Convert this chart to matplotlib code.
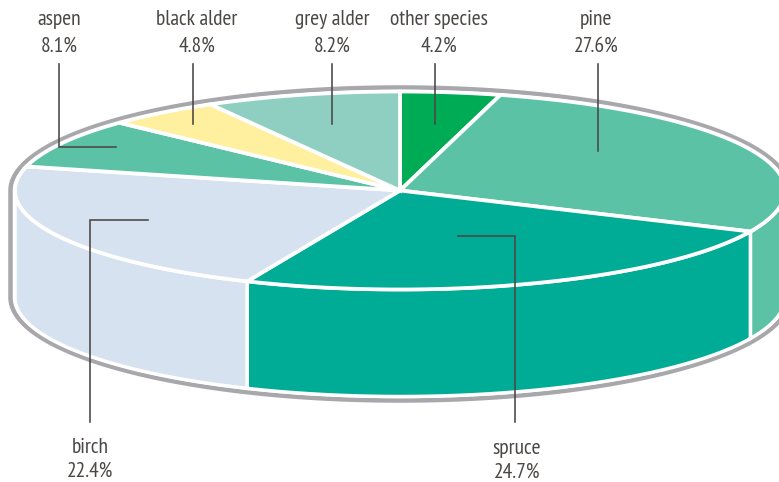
import numpy as np
import matplotlib
matplotlib.use('Agg')
import matplotlib.pyplot as plt
from matplotlib.patches import Polygon

plt.rcParams['font.family'] = ['PT Sans Narrow', 'Roboto Condensed', 'Roboto', 'DejaVu Sans']

# clockwise from 12 o'clock
species = ['other species', 'pine', 'spruce', 'birch', 'aspen', 'black alder', 'grey alder']
shares = [4.2, 27.6, 24.7, 22.4, 8.1, 4.8, 8.2]
colors = ['#00ab56', '#5bc2a6', '#00ac96', '#d6e2f0', '#5bc2a6', '#fff09f', '#8fcfc2']

CX, CY = 400, 190.5
RX, RY = 385, 99
DEPTH = 107
INK = '#4a4744'
RIM = '#a8a8ac'
PX = 72 / 100  # one pixel in points


def rim(t0, t1, rx=RX, ry=RY, dy=0):
    t = np.radians(np.linspace(t0, t1, max(int(abs(t1 - t0)) * 2, 2)))
    return np.column_stack([CX + rx * np.sin(t), CY + dy - ry * np.cos(t)])


fig = plt.figure(figsize=(7.79, 4.82), dpi=100)
ax = fig.add_axes([0, 0, 1, 1])
ax.set_xlim(0, 779)
ax.set_ylim(482, 0)
ax.axis('off')

# grey outline round the whole disc
top_arc = rim(270, 450, 389.5, 103)
low_arc = rim(90, 270, 389.5, 103, 107)
ax.add_patch(Polygon(np.vstack([top_arc, low_arc]), closed=True, fc='white', ec=RIM,
                     lw=4.5 * PX, joinstyle='round', zorder=1))

edges = np.concatenate([[0], np.cumsum(shares)]) * 360 / sum(shares)

# side wall, only the part facing the viewer
for a, b, c in zip(edges[:-1], edges[1:], colors):
    t0, t1 = max(a, 90), min(b, 270)
    if t0 >= t1:
        continue
    pts = np.vstack([rim(t0, t1), rim(t1, t0, dy=DEPTH)])
    ax.add_patch(Polygon(pts, closed=True, fc=c, ec='white', lw=3.5 * PX,
                         joinstyle='miter', zorder=2))

# top face
for a, b, c in zip(edges[:-1], edges[1:], colors):
    pts = np.vstack([[CX, CY], rim(a, b)])
    ax.add_patch(Polygon(pts, closed=True, fc=c, ec='white', lw=3.8 * PX,
                         joinstyle='miter', zorder=3))

# leader lines
leaders = {
    'aspen': ([59, 59, 116], [64, 147, 147]),
    'black alder': ([193.5, 193.5], [64, 124]),
    'grey alder': ([332, 332], [64, 124]),
    'other species': ([435, 435], [64, 124]),
    'pine': ([598, 598], [64, 151]),
    'spruce': ([458, 515, 515], [236, 236, 422]),
    'birch': ([148, 90, 90], [220, 220, 422]),
}
for xs, ys in leaders.values():
    ax.plot(xs, ys, color=INK, lw=1.6 * PX, solid_joinstyle='miter', zorder=4)

# label centre and the two baselines
label_pos = {
    'aspen': (59, 25, 51.5),
    'black alder': (197, 25, 51.5),
    'grey alder': (332, 25, 51.5),
    'other species': (439, 25, 51.5),
    'pine': (596, 25, 51.5),
    'spruce': (517, 454, 478),
    'birch': (90, 453, 477),
}
for name, share in zip(species, shares):
    x, y1, y2 = label_pos[name]
    ax.text(x, y1, name, ha='center', va='baseline', fontsize=15.5, color=INK, zorder=5)
    ax.text(x, y2, f'{share}%', ha='center', va='baseline', fontsize=15.5, color=INK, zorder=5)

fig.savefig('out.png', dpi=100)
